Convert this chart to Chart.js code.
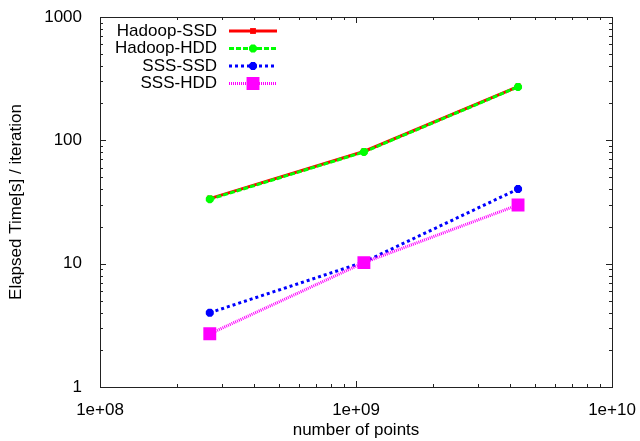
<!DOCTYPE html>
<html>
<head>
<meta charset="utf-8">
<script src="https://cdn.jsdelivr.net/npm/chart.js@4.4.0/dist/chart.umd.min.js"></script>
<style>
  body { margin: 0; background: #fff; }
</style>
</head>
<body>
<canvas id="chart" width="640" height="441"></canvas>
<script>
// data
const pointCounts = [268435456, 1073741824, 4294967296];
const hadoopSsd = [33.7, 81.2, 273];
const hadoopHdd = [33.3, 80.5, 271];
const sssSsd = [4.0, 10.3, 40.3];
const sssHdd = [2.7, 10.2, 29.9];

const seriesNames = ["Hadoop-SSD", "Hadoop-HDD", "SSS-SSD", "SSS-HDD"];

const xTickValues = [1e8, 1e9, 1e10];
const xTickLabels = ["1e+08", "1e+09", "1e+10"];
const yTickValues = [1, 10, 100, 1000];
const yTickLabels = ["1", "10", "100", "1000"];

const FONT = "'Liberation Sans', Arial, Helvetica, sans-serif";

function toXY(ys) {
  return ys.map((y, i) => ({ x: pointCounts[i], y: y }));
}

// frame + gnuplot style inward ticks (major and minor) on all four sides
const frameTicks = {
  id: "frameTicks",
  beforeDatasetsDraw(chart) {
    const { ctx, chartArea: a, scales } = chart;
    ctx.save();
    ctx.strokeStyle = "#222";
    ctx.lineWidth = 1;
    ctx.strokeRect(a.left + 0.5, a.top + 0.5, a.right - a.left, a.bottom - a.top);
    ctx.beginPath();
    const decadeTicks = (min, max, cb) => {
      for (let d = min; d < max * 1.001; d *= 10) {
        cb(d, 6);
        if (d < max) for (let k = 2; k <= 9; k++) cb(d * k, 3);
      }
    };
    decadeTicks(1e8, 1e10, (v, len) => {
      const x = Math.round(scales.x.getPixelForValue(v)) + 0.5;
      ctx.moveTo(x, a.bottom); ctx.lineTo(x, a.bottom - len);
      ctx.moveTo(x, a.top); ctx.lineTo(x, a.top + len);
    });
    decadeTicks(1, 1000, (v, len) => {
      const y = Math.round(scales.y.getPixelForValue(v)) + 0.5;
      ctx.moveTo(a.left, y); ctx.lineTo(a.left + len, y);
      ctx.moveTo(a.right, y); ctx.lineTo(a.right - len, y);
    });
    ctx.stroke();
    ctx.restore();
  }
};

// key in the top-left corner: right aligned text, sample line on the right
const gnuKey = {
  id: "gnuKey",
  afterDatasetsDraw(chart) {
    const { ctx } = chart;
    const textRight = 217, lineL = 229, lineR = 277, top = 31, step = 17.5;
    ctx.save();
    chart.data.datasets.forEach((ds, i) => {
      const y = top + i * step;
      ctx.font = "17px " + FONT;
      ctx.fillStyle = "#000";
      ctx.textAlign = "right";
      ctx.textBaseline = "middle";
      ctx.fillText(ds.label, textRight, y);
      ctx.strokeStyle = ds.borderColor;
      ctx.lineWidth = ds.borderWidth;
      ctx.setLineDash(ds.borderDash || []);
      ctx.beginPath();
      ctx.moveTo(lineL, y); ctx.lineTo(lineR, y);
      ctx.stroke();
      ctx.setLineDash([]);
      ctx.fillStyle = ds.pointBackgroundColor;
      ctx.strokeStyle = ds.pointBorderColor;
      ctx.lineWidth = ds.pointBorderWidth;
      Chart.helpers.drawPoint(ctx, {
        pointStyle: ds.pointStyle, radius: ds.pointRadius, rotation: 0,
        borderWidth: ds.pointBorderWidth
      }, (lineL + lineR) / 2, y);
    });
    ctx.restore();
  }
};

function series(label, ys, color, dash, style, radius, order) {
  return {
    label: label,
    data: toXY(ys),
    borderColor: color,
    backgroundColor: color,
    borderWidth: 3,
    borderDash: dash,
    borderCapStyle: "butt",
    pointStyle: style,
    pointRadius: radius,
    pointBackgroundColor: color,
    pointBorderColor: color,
    pointBorderWidth: 3,
    tension: 0,
    order: order
  };
}

new Chart(document.getElementById("chart"), {
  type: "line",
  data: {
    datasets: [
      series(seriesNames[0], hadoopSsd, "#ff0000", [], "rect", 2, 4),
      series(seriesNames[1], hadoopHdd, "#00ff00", [5, 2], "star", 4, 3),
      series(seriesNames[2], sssSsd, "#0000ff", [3, 3], "star", 4, 2),
      series(seriesNames[3], sssHdd, "#ff00ff", [1, 1], "rect", 7, 1)
    ]
  },
  options: {
    responsive: false,
    animation: false,
    layout: { padding: { top: 17, right: 28, left: 0, bottom: 0 } },
    plugins: {
      legend: { display: false },
      tooltip: { enabled: false }
    },
    scales: {
      x: {
        type: "logarithmic",
        min: 1e8,
        max: 1e10,
        afterBuildTicks: s => { s.ticks = xTickValues.map(v => ({ value: v })); },
        afterFit: s => { s.height = 54; s.paddingLeft = 0; s.paddingRight = 0; },
        grid: { display: false },
        border: { display: false },
        ticks: {
          padding: 5,
          autoSkip: false,
          maxRotation: 0,
          color: "#000",
          font: { family: FONT, size: 17 },
          callback: (v, i) => xTickLabels[i]
        },
        title: {
          display: true,
          text: "number of points",
          color: "#000",
          font: { family: FONT, size: 17 },
          padding: { top: 2, bottom: 0 }
        }
      },
      y: {
        type: "logarithmic",
        min: 1,
        max: 1000,
        afterBuildTicks: s => { s.ticks = yTickValues.map(v => ({ value: v })); },
        afterFit: s => { s.width = 100; s.paddingTop = 0; s.paddingBottom = 0; },
        grid: { display: false },
        border: { display: false },
        ticks: {
          padding: 10,
          autoSkip: false,
          color: "#000",
          font: { family: FONT, size: 17 },
          callback: (v, i) => yTickLabels[i]
        },
        title: {
          display: true,
          text: "Elapsed Time[s] / iteration",
          color: "#000",
          font: { family: FONT, size: 17 },
          padding: { top: 6, bottom: 0 }
        }
      }
    }
  },
  plugins: [frameTicks, gnuKey]
});
</script>
</body>
</html>
